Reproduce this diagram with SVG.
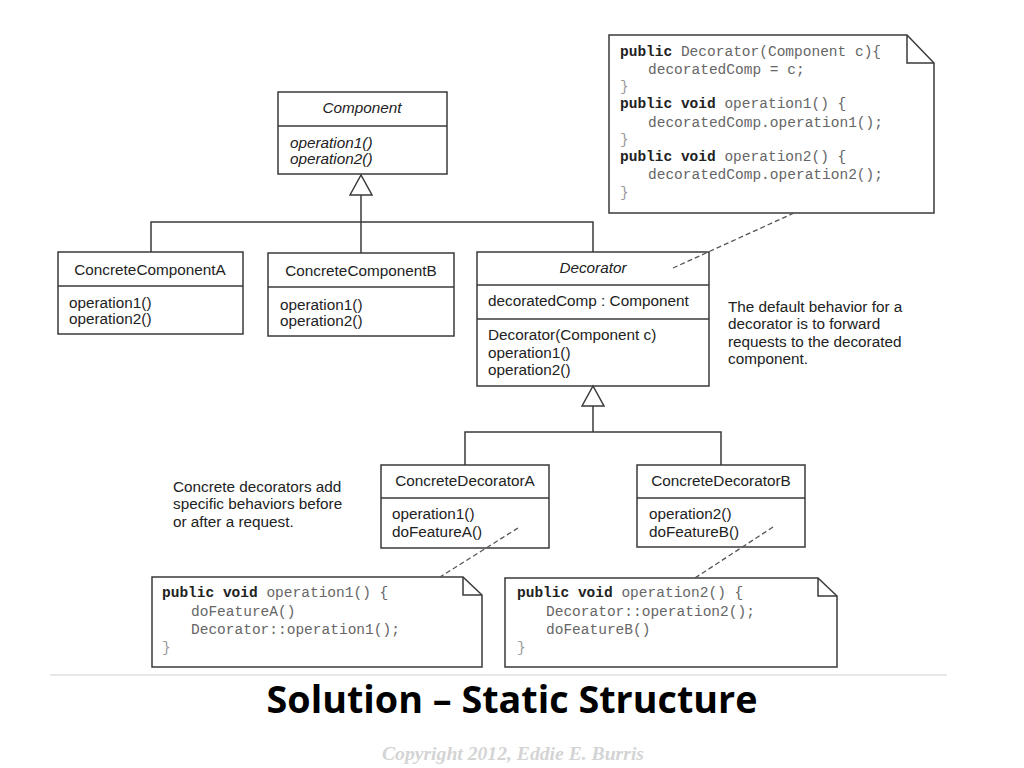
<svg xmlns="http://www.w3.org/2000/svg" width="1024" height="768" viewBox="0 0 1024 768">
<style>
.box{fill:#fff;stroke:#3a3a3a;stroke-width:1.5}
.ln{fill:none;stroke:#3a3a3a;stroke-width:1.5}
.dash{fill:none;stroke:#555;stroke-width:1.3;stroke-dasharray:5,3}
.uml{font-family:"Liberation Sans",Arial,sans-serif;font-size:15.3px;fill:#222}
.it{font-style:italic}
.mid{text-anchor:middle}
.code{font-family:"Liberation Mono","Courier New",monospace;font-size:14.5px;fill:#666}
.kw{font-weight:bold;fill:#222}
.br{fill:#999}
</style>
<defs>
<marker id="inh" viewBox="0 0 24 24" markerWidth="24" markerHeight="24" refX="21" refY="12" orient="auto" markerUnits="userSpaceOnUse">
<path d="M1,1 L21,12 L1,23 Z" fill="#fff" stroke="#3a3a3a" stroke-width="1.5"/>
</marker>
</defs>
<rect width="1024" height="768" fill="#fff"/>

<g id="component">
<rect class="box" x="278" y="92" width="169" height="82"/>
<line class="ln" x1="278" y1="126" x2="447" y2="126"/>
<text class="uml it mid" x="362" y="113">Component</text>
<text class="uml it" x="290" y="148">operation1()</text>
<text class="uml it" x="290" y="164">operation2()</text>
</g>

<g id="concreteComponentA">
<rect class="box" x="58" y="252" width="185" height="82"/>
<line class="ln" x1="58" y1="286" x2="243" y2="286"/>
<text class="uml mid" x="150" y="275">ConcreteComponentA</text>
<text class="uml" x="69" y="308">operation1()</text>
<text class="uml" x="69" y="324">operation2()</text>
</g>

<g id="concreteComponentB">
<rect class="box" x="268" y="253" width="186" height="83"/>
<line class="ln" x1="268" y1="287" x2="454" y2="287"/>
<text class="uml mid" x="361" y="276">ConcreteComponentB</text>
<text class="uml" x="280" y="310">operation1()</text>
<text class="uml" x="280" y="326">operation2()</text>
</g>

<g id="decorator">
<rect class="box" x="477" y="252" width="232" height="134"/>
<line class="ln" x1="477" y1="285" x2="709" y2="285"/>
<line class="ln" x1="477" y1="319" x2="709" y2="319"/>
<text class="uml it mid" x="593" y="273">Decorator</text>
<text class="uml" x="488" y="306">decoratedComp : Component</text>
<text class="uml" x="488" y="340">Decorator(Component c)</text>
<text class="uml" x="488" y="358">operation1()</text>
<text class="uml" x="488" y="375">operation2()</text>
</g>

<g id="decoratorNote">
<text class="uml" x="728" y="312">The default behavior for a</text>
<text class="uml" x="728" y="329">decorator is to forward</text>
<text class="uml" x="728" y="347">requests to the decorated</text>
<text class="uml" x="728" y="364">component.</text>
</g>

<g id="decoratorCode">
<path class="box" d="M609,35 H907 L934,63 V213 H609 Z"/>
<path class="ln" d="M907,35 V63 H934"/>
<text class="code" x="620" y="56"><tspan class="kw">public</tspan> Decorator(Component c){</text>
<text class="code" x="648" y="74">decoratedComp = c;</text>
<text class="code br" x="620" y="91">}</text>
<text class="code" x="620" y="108"><tspan class="kw">public void</tspan> operation1() {</text>
<text class="code" x="648" y="127">decoratedComp.operation1();</text>
<text class="code br" x="620" y="144">}</text>
<text class="code" x="620" y="161"><tspan class="kw">public void</tspan> operation2() {</text>
<text class="code" x="648" y="179">decoratedComp.operation2();</text>
<text class="code br" x="620" y="197">}</text>
</g>

<g id="concreteDecoratorA">
<rect class="box" x="381" y="465" width="168" height="83"/>
<line class="ln" x1="381" y1="498" x2="549" y2="498"/>
<text class="uml mid" x="465" y="486">ConcreteDecoratorA</text>
<text class="uml" x="392" y="519">operation1()</text>
<text class="uml" x="392" y="537">doFeatureA()</text>
</g>

<g id="concreteDecoratorB">
<rect class="box" x="637" y="465" width="168" height="82"/>
<line class="ln" x1="637" y1="498" x2="805" y2="498"/>
<text class="uml mid" x="721" y="486">ConcreteDecoratorB</text>
<text class="uml" x="649" y="519">operation2()</text>
<text class="uml" x="649" y="537">doFeatureB()</text>
</g>

<g id="concreteNote">
<text class="uml" x="173" y="492">Concrete decorators add</text>
<text class="uml" x="173" y="509">specific behaviors before</text>
<text class="uml" x="173" y="527">or after a request.</text>
</g>

<g id="codeA">
<path class="box" d="M152,577 H463 L482,595 V667 H152 Z"/>
<path class="ln" d="M463,577 V595 H482"/>
<text class="code" x="162" y="597"><tspan class="kw">public void</tspan> operation1() {</text>
<text class="code" x="191" y="616">doFeatureA()</text>
<text class="code" x="191" y="634">Decorator::operation1();</text>
<text class="code br" x="162" y="652">}</text>
</g>

<g id="codeB">
<path class="box" d="M505,578 H818 L837,596 V667 H505 Z"/>
<path class="ln" d="M818,578 V596 H837"/>
<text class="code" x="517" y="597"><tspan class="kw">public void</tspan> operation2() {</text>
<text class="code" x="546" y="616">Decorator::operation2();</text>
<text class="code" x="546" y="634">doFeatureB()</text>
<text class="code br" x="517" y="652">}</text>
</g>

<g id="connectors">
<path class="ln" d="M151,252 V222 H593 V252"/>
<path class="ln" d="M361,253 V222"/>
<path class="ln" d="M361,222 V175" marker-end="url(#inh)"/>
<path class="ln" d="M465,465 V432 H721 V465"/>
<path class="ln" d="M593,432 V386" marker-end="url(#inh)"/>
<path class="dash" d="M794,213 L673,268"/>
<path class="dash" d="M518,528 L440,577"/>
<path class="dash" d="M773,527 L695,578"/>
</g>

<line x1="50" y1="675" x2="947" y2="675" stroke="#d0d0d0" stroke-width="1.2"/>
<text x="512" y="713" text-anchor="middle" font-family="'Open Sans','Noto Sans',sans-serif" font-weight="bold" font-size="38" fill="#000" textLength="491" lengthAdjust="spacingAndGlyphs">Solution – Static Structure</text>
<text x="513" y="760" text-anchor="middle" font-family="'Liberation Serif','Times New Roman',serif" font-style="italic" font-weight="bold" font-size="18" fill="#d4d4d4" textLength="262" lengthAdjust="spacingAndGlyphs">Copyright 2012, Eddie E. Burris</text>
</svg>
